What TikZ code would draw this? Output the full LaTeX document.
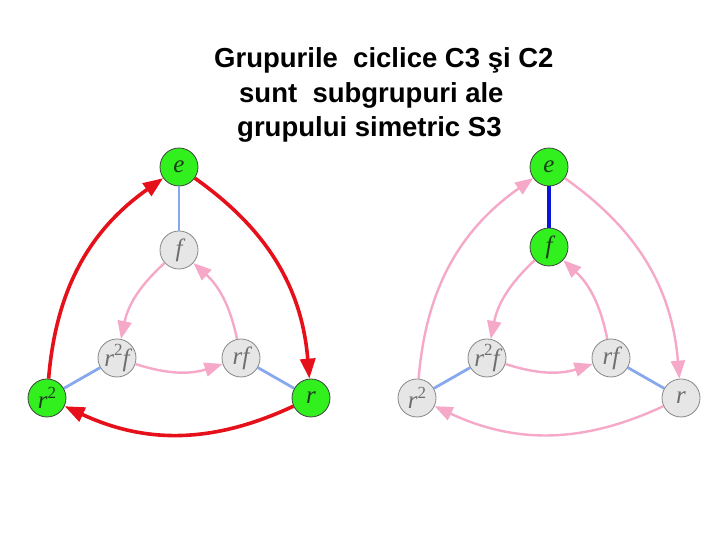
\documentclass[tikz,border=0pt]{standalone}
\usepackage{fontspec}
\setmainfont{Liberation Sans}
\newfontfamily\vfont{Liberation Serif}
\usetikzlibrary{arrows.meta}
\definecolor{grn}{RGB}{50,240,30}
\definecolor{gryfill}{RGB}{230,230,230}
\definecolor{gryline}{RGB}{135,135,135}
\definecolor{redc}{RGB}{230,16,26}
\definecolor{pinkc}{RGB}{245,168,200}
\definecolor{lblue}{RGB}{136,168,238}
\definecolor{dblue}{RGB}{10,20,216}
\definecolor{gtext}{RGB}{30,60,30}
\definecolor{ytext}{RGB}{110,110,110}
\newcommand{\sqsup}{\raisebox{0.42em}{\fontsize{17}{17}\selectfont\upshape 2}}
\tikzset{
  vtx/.style={circle, minimum size=38pt, inner sep=0pt, draw=gryline, line width=0.8pt, font=\vfont\itshape\fontsize{25}{25}\selectfont},
  gvtx/.style={vtx, fill=grn, draw=black!75, text=gtext},
  yvtx/.style={vtx, fill=gryfill, text=ytext},
  redarr/.style={draw=redc, line width=3.6pt, -{Triangle[length=20pt,width=15pt]}},
  pinkarr/.style={draw=pinkc, line width=2.4pt, -{Triangle[length=18pt,width=14pt]}},
  lbl/.style={draw=lblue, line width=2.8pt},
  dbl/.style={draw=dblue, line width=4pt},
  ttl/.style={anchor=base west, inner sep=0pt, font=\fontsize{27.5}{33}\selectfont\bfseries}
}
\begin{document}
\begin{tikzpicture}[x=1pt,y=1pt]
\useasboundingbox (0,0) rectangle (720,540);
\node[ttl] (t1) at (214,472) {Grupurile\ \ ciclice C3 şi C2};
\node[ttl] (t2) at (239,437) {sunt\ \ subgrupuri ale};
\node[ttl] (t3) at (237,403) {grupului simetric S3};
% left graph
\begin{scope}[shift={(179,0)}]
\node[gvtx] (e) at (0,373) {e};
\node[yvtx] (f) at (0,290) {f};
\node[yvtx] (r2f) at (-62,182) {r\sqsup f};
\node[yvtx] (rf) at (62,182) {rf};
\node[gvtx] (r2) at (-132,142) {r\sqsup};
\node[gvtx] (r) at (132,142) {r};
\draw[lbl] (e) -- (f);
\draw[lbl] (r2f) -- (r2);
\draw[lbl] (rf) -- (r);
\draw[pinkarr] (f) to[bend right=18] (r2f);
\draw[pinkarr] (r2f) to[bend right=18] (rf);
\draw[pinkarr] (rf) to[bend right=18] (f);
\draw[redarr] (e) to[bend left=25] (r);
\draw[redarr] (r) to[bend left=25] (r2);
\draw[redarr] (r2) to[bend left=25] (e);
\end{scope}
% right graph
\begin{scope}[shift={(549,0)}]
\node[gvtx] (e') at (0,373) {e};
\node[gvtx] (f') at (0,293) {f};
\node[yvtx] (r2f') at (-62,182) {r\sqsup f};
\node[yvtx] (rf') at (62,182) {rf};
\node[yvtx] (r2') at (-132,142) {r\sqsup};
\node[yvtx] (r') at (132,142) {r};
\draw[dbl] (e') -- (f');
\draw[lbl] (r2f') -- (r2');
\draw[lbl] (rf') -- (r');
\draw[pinkarr] (f') to[bend right=18] (r2f');
\draw[pinkarr] (r2f') to[bend right=18] (rf');
\draw[pinkarr] (rf') to[bend right=18] (f');
\draw[pinkarr] (e') to[bend left=25] (r');
\draw[pinkarr] (r') to[bend left=25] (r2');
\draw[pinkarr] (r2') to[bend left=25] (e');
\end{scope}
\end{tikzpicture}
\end{document}
